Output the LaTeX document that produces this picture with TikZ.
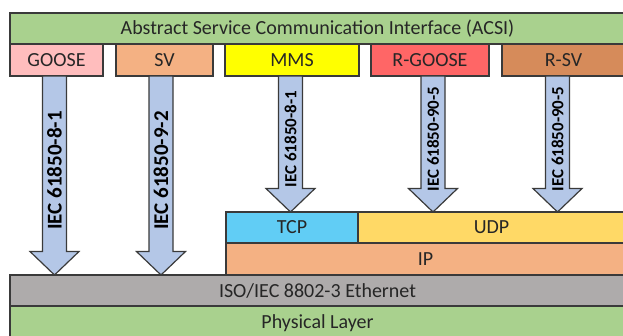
\documentclass[tikz,border=0pt]{standalone}
\usepackage{fontspec}
\setmainfont{Carlito}
\usetikzlibrary{calc}
\definecolor{cgreen}{HTML}{A9D18E}
\definecolor{cpink}{HTML}{FFBDBD}
\definecolor{corange}{HTML}{F4B183}
\definecolor{cyellow}{HTML}{FFFF00}
\definecolor{cred}{HTML}{FF6666}
\definecolor{cbrown}{HTML}{D68B5A}
\definecolor{cblue}{HTML}{B4C7E7}
\definecolor{ccyan}{HTML}{61CDF5}
\definecolor{cgold}{HTML}{FFD966}
\definecolor{cgray}{HTML}{AEABAB}
\definecolor{cline}{HTML}{3A3A3A}
\definecolor{ctext}{HTML}{262626}
\tikzset{
  layerbox/.style={draw=cline, line width=1.2pt, inner sep=0pt, outer sep=0pt,
    text=ctext, font=\fontsize{20}{24}\selectfont},
  arrowshape/.style={draw=cline, line width=1.2pt, fill=cblue, line join=miter},
  arrowtext/.style={rotate=90, text=black, inner sep=0pt},
}
\newcommand\bigarrow[6]{%
  \coordinate (#1t) at (#2,0);
  \coordinate (#1a) at (#1t |- #3.south);
  \coordinate (#1b) at (#1t |- #4.north);
  \draw[arrowshape] ($(#1a)+(-12,0)$) -- ($(#1b)+(-12,-23.5)$) -- ($(#1b)+(-24.5,-23.5)$) -- (#1b)
     -- ($(#1b)+(24.5,-23.5)$) -- ($(#1b)+(12,-23.5)$) -- ($(#1a)+(12,0)$) -- cycle;
  \node[arrowtext, font=#5] (#1l) at ($(#1a)!0.5!(#1b)+(0,-5)$) {#6};
}
\begin{document}
\begin{tikzpicture}[x=1pt,y=-1pt]
\useasboundingbox (0,0) rectangle (623,335);
\clip (0,0) rectangle (623,335);
% top layer
\node[layerbox, fill=cgreen, minimum width=615, minimum height=31] (acsi) at (317.5,28.5) {Abstract Service Communication Interface (ACSI)};
\node[layerbox, fill=cpink, minimum width=93, minimum height=32] (goose) at (56.5,60) {GOOSE};
\node[layerbox, fill=corange, minimum width=97, minimum height=32] (sv) at (164.5,60) {SV};
\node[layerbox, fill=cyellow, minimum width=134, minimum height=32] (mms) at (292,60) {MMS};
\node[layerbox, fill=cred, minimum width=118, minimum height=32] (rgoose) at (430,60) {R-GOOSE};
\node[layerbox, fill=cbrown, minimum width=123, minimum height=32] (rsv) at (563.5,60) {R-SV};
% lower layers
\node[layerbox, fill=ccyan, minimum width=132, minimum height=31] (tcp) at (292,227.5) {TCP};
\node[layerbox, fill=cgold, minimum width=267, minimum height=31] (udp) at (491.5,227.5) {UDP};
\node[layerbox, fill=corange, minimum width=399, minimum height=32] (ip) at (425.5,259) {IP};
\node[layerbox, fill=cgray, minimum width=615, minimum height=31] (eth) at (317.5,290.5) {ISO/IEC 8802-3 Ethernet};
\node[layerbox, fill=cgreen, minimum width=615, minimum height=34] (phy) at (317.5,323) {Physical Layer};
% arrows
\bigarrow{a1}{54.5}{goose}{eth}{\fontsize{21}{24}\bfseries\selectfont}{IEC 61850-8-1}
\bigarrow{a2}{161}{sv}{eth}{\fontsize{21}{24}\bfseries\selectfont}{IEC 61850-9-2}
\bigarrow{a3}{290.5}{mms}{tcp}{\fontsize{17}{20}\bfseries\selectfont}{IEC 61850-8-1}
\bigarrow{a4}{433}{rgoose}{udp}{\fontsize{17}{20}\bfseries\selectfont}{IEC 61850-90-5}
\bigarrow{a5}{557.5}{rsv}{udp}{\fontsize{17}{20}\bfseries\selectfont}{IEC 61850-90-5}
\end{tikzpicture}
\end{document}
